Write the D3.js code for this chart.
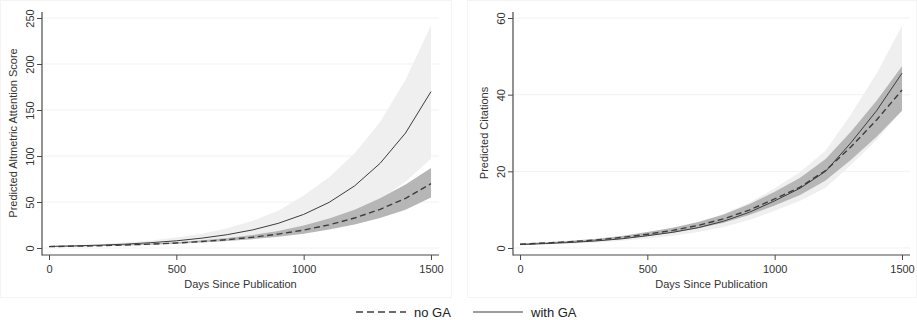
<!DOCTYPE html>
<html>
<head>
<meta charset="utf-8">
<script src="https://cdn.jsdelivr.net/npm/d3@7"></script>
<style>
  body { margin: 0; background: #fff; }
  svg { display: block; font-family: Arial, "Liberation Sans", sans-serif; }
</style>
</head>
<body>
<svg id="chart" width="917" height="320"></svg>
<script>
// days since publication (x values of every series)
const days = [0, 100, 200, 300, 400, 500, 600, 700, 800, 900, 1000, 1100, 1200, 1300, 1400, 1500];
const xTicks = [0, 500, 1000, 1500];

// Altmetric panel
const altTicks = [0, 50, 100, 150, 200, 250];
const altNoGA = [1.5, 2.0, 2.5, 3.3, 4.2, 5.4, 7.0, 9.1, 11.7, 15.1, 19.5, 25.2, 32.6, 42, 54, 70];
const altNoGALow = [1.3, 1.7, 2.2, 2.8, 3.6, 4.6, 5.9, 7.5, 9.6, 12.3, 15.6, 20, 25.5, 32.5, 41.5, 55];
const altNoGAHigh = [1.7, 2.3, 2.9, 3.8, 4.9, 6.3, 8.3, 10.8, 14.2, 18.5, 24.5, 32, 41.5, 54, 69, 87];
const altGA = [1.7, 2.3, 3.1, 4.2, 5.8, 7.8, 10.7, 14.5, 19.7, 26.8, 36.5, 49.6, 67.5, 92, 125, 170];
const altGALow = [1.2, 1.6, 2.2, 3.0, 4.0, 5.3, 7.0, 9.3, 12.3, 16.3, 21.5, 29, 39, 53, 72, 97];
const altGAHigh = [2.3, 3.2, 4.3, 5.9, 8.2, 11.3, 15.6, 21.5, 29.5, 40.5, 57, 77, 103, 137, 183, 242];

// Citations panel
const citTicks = [0, 20, 40, 60];
const citNoGA = [1.0, 1.3, 1.65, 2.1, 2.75, 3.6, 4.6, 5.9, 7.6, 9.9, 12.8, 15.9, 20.2, 26.4, 33.4, 41.2];
const citNoGALow = [0.87, 1.13, 1.43, 1.83, 2.4, 3.13, 4.0, 5.13, 6.6, 8.6, 11.1, 13.8, 17.6, 23.0, 29.0, 35.8];
const citNoGAHigh = [1.15, 1.5, 1.9, 2.4, 3.15, 4.15, 5.3, 6.8, 8.75, 11.4, 14.7, 18.3, 23.2, 30.4, 38.4, 47.4];
const citGA = [0.9, 1.15, 1.45, 1.85, 2.4, 3.2, 4.1, 5.3, 7.0, 9.3, 12.3, 15.6, 20.0, 27.5, 35.8, 45.6];
const citGALow = [0.71, 0.9, 1.14, 1.46, 1.9, 2.5, 3.2, 4.2, 5.5, 7.3, 9.7, 12.3, 15.7, 21.7, 28.2, 35.9];
const citGAHigh = [1.15, 1.45, 1.85, 2.35, 3.05, 4.05, 5.2, 6.75, 8.9, 11.8, 15.6, 19.8, 25.4, 34.9, 45.5, 57.9];

const legendLabels = ["no GA", "with GA"];

const svg = d3.select("#chart");
const axisColor = "#4a4a4a";
const lineColor = "#3c3c3c";
const lightBand = "#efefef";
const darkBand = "#b6b6b6";

function drawPanel(cfg) {
  const g = svg.append("g");

  // faint panel frame
  g.append("rect")
    .attr("x", cfg.frame[0] + 0.5).attr("y", 0.5)
    .attr("width", cfg.frame[1] - cfg.frame[0]).attr("height", 297)
    .attr("fill", "none").attr("stroke", "#f4f4f4");

  const x = d3.scaleLinear().domain([0, 1500]).range([cfg.left + 7, cfg.right - 8]);
  const y = d3.scaleLinear().domain([0, cfg.yMax]).range([248, 18]);

  // gridlines
  g.selectAll(".grid").data(cfg.yTicks).enter().append("line")
    .attr("x1", cfg.left).attr("x2", cfg.right)
    .attr("y1", d => y(d)).attr("y2", d => y(d))
    .attr("stroke", "#f1f1f1").attr("stroke-width", 1);

  const area = (lo, hi) => d3.area()
    .x((d, i) => x(days[i]))
    .y0((d, i) => y(lo[i]))
    .y1((d, i) => y(hi[i]))(days);

  g.append("path").attr("d", area(cfg.gaLow, cfg.gaHigh)).attr("fill", lightBand);
  g.append("path").attr("d", area(cfg.noLow, cfg.noHigh)).attr("fill", darkBand);

  const line = vals => d3.line()
    .x((d, i) => x(days[i]))
    .y((d, i) => y(vals[i]))(days);

  g.append("path").attr("d", line(cfg.ga)).attr("fill", "none")
    .attr("stroke", lineColor).attr("stroke-width", 1);
  g.append("path").attr("d", line(cfg.no)).attr("fill", "none")
    .attr("stroke", lineColor).attr("stroke-width", 1.4).attr("stroke-dasharray", "6,3.5");

  // axes
  const xAxis = g.append("g").attr("transform", "translate(0,255)")
    .call(d3.axisBottom(x).tickValues(xTicks).tickSize(5).tickSizeOuter(0).tickFormat(d3.format("d")));
  xAxis.select(".domain").remove();
  xAxis.selectAll("line").attr("stroke", axisColor);
  xAxis.selectAll("text").attr("font-size", 11).attr("fill", "#333").attr("dy", "0.95em")
    .attr("font-family", "Arial, 'Liberation Sans', sans-serif");

  const yAxis = g.append("g").attr("transform", `translate(${cfg.left},0)`)
    .call(d3.axisLeft(y).tickValues(cfg.yTicks).tickSize(5).tickSizeOuter(0).tickFormat(d3.format("d")));
  yAxis.select(".domain").remove();
  yAxis.selectAll("line").attr("stroke", axisColor);
  yAxis.selectAll("text")
    .attr("x", null).attr("dy", null)
    .attr("transform", `translate(-12,0) rotate(-90)`)
    .attr("text-anchor", "middle").attr("dominant-baseline", "central")
    .attr("font-size", 11).attr("fill", "#333")
    .attr("font-family", "Arial, 'Liberation Sans', sans-serif");

  g.append("line").attr("x1", cfg.left).attr("x2", cfg.left).attr("y1", 12).attr("y2", 255.5)
    .attr("stroke", axisColor).attr("stroke-width", 1.2);
  g.append("line").attr("x1", cfg.left).attr("x2", cfg.right).attr("y1", 255).attr("y2", 255)
    .attr("stroke", axisColor).attr("stroke-width", 1.2);

  g.append("text").attr("x", (cfg.left + cfg.right) / 2).attr("y", 288)
    .attr("text-anchor", "middle").attr("font-size", 11).attr("fill", "#333")
    .text("Days Since Publication");

  g.append("text")
    .attr("transform", `translate(${cfg.left - 29},133) rotate(-90)`)
    .attr("text-anchor", "middle").attr("dominant-baseline", "central")
    .attr("font-size", 11).attr("fill", "#333")
    .text(cfg.yTitle);
}

drawPanel({
  frame: [0, 451], left: 42, right: 439, yMax: 250, yTicks: altTicks,
  yTitle: "Predicted Altmetric Attention Score",
  no: altNoGA, noLow: altNoGALow, noHigh: altNoGAHigh,
  ga: altGA, gaLow: altGALow, gaHigh: altGAHigh
});
drawPanel({
  frame: [467, 916], left: 513, right: 910, yMax: 60, yTicks: citTicks,
  yTitle: "Predicted Citations",
  no: citNoGA, noLow: citNoGALow, noHigh: citNoGAHigh,
  ga: citGA, gaLow: citGALow, gaHigh: citGAHigh
});

// legend
const legend = svg.append("g").attr("transform", "translate(0,312)");
const legendX = [356, 473];
legendLabels.forEach((lab, i) => {
  legend.append("line").attr("x1", legendX[i]).attr("x2", legendX[i] + 50)
    .attr("y1", 0).attr("y2", 0)
    .attr("stroke", lineColor)
    .attr("stroke-width", i === 0 ? 1.4 : 1.2)
    .attr("stroke-dasharray", i === 0 ? "7,4" : null);
  legend.append("text").attr("x", legendX[i] + 58).attr("y", 0)
    .attr("dominant-baseline", "central").attr("font-size", 13).attr("fill", "#222")
    .text(lab);
});
</script>
</body>
</html>
